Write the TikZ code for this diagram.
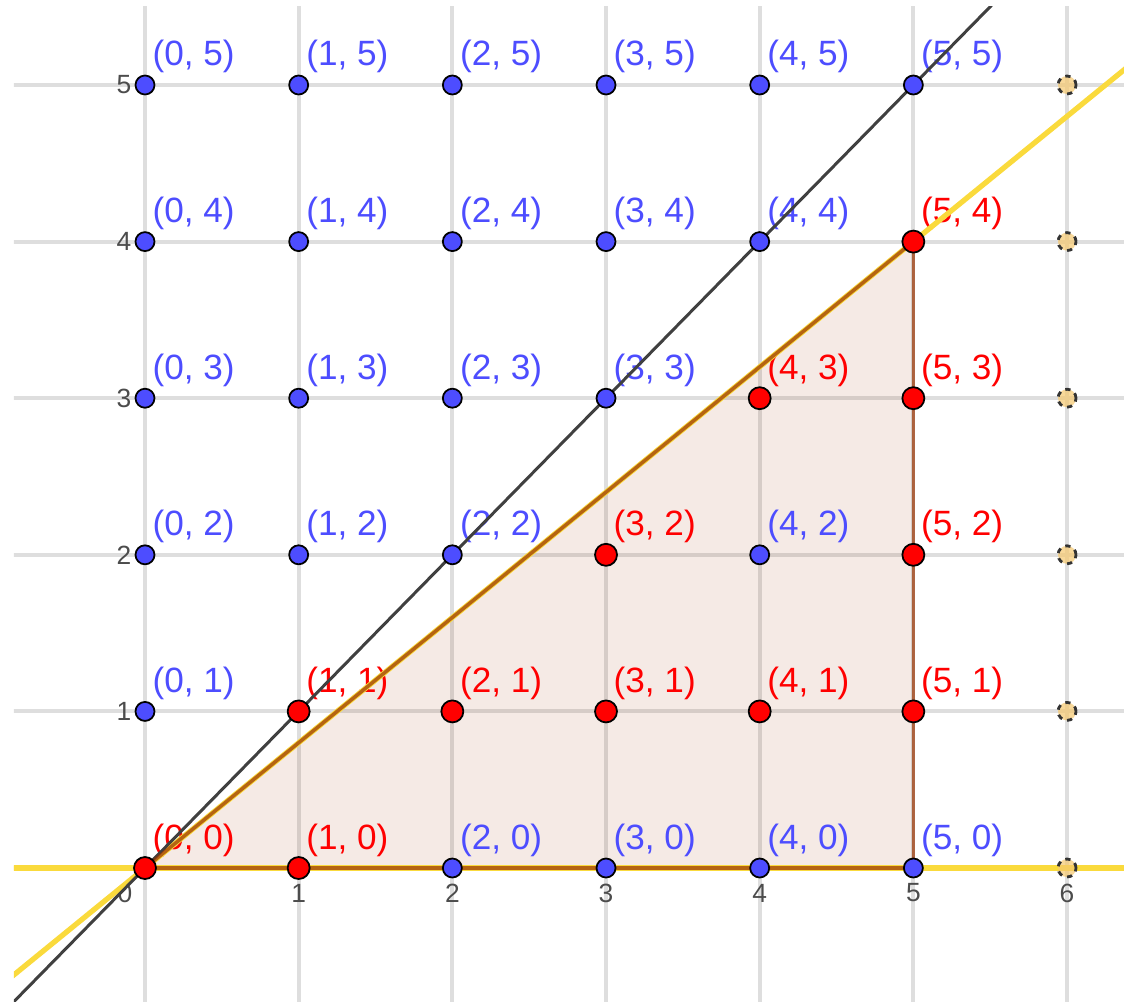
\documentclass[tikz,border=0pt]{standalone}
\usepackage{fontspec}
\setmainfont{Liberation Sans}
\definecolor{ggblue}{RGB}{77,77,255}
\definecolor{ggred}{RGB}{255,0,0}
\definecolor{gridc}{RGB}{222,222,222}
\definecolor{ggyel}{RGB}{250,218,60}
\definecolor{ggbrown}{RGB}{153,51,0}
\definecolor{ggdark}{RGB}{64,64,64}
\definecolor{hollow}{RGB}{245,200,110}
\begin{document}
\begin{tikzpicture}[x={(1.5367cm,0)}, y={(0,1.566cm)},
  gridline/.style={draw=gridc, line width=1.1pt},
  bpt/.style={circle, fill=ggblue, draw=black, line width=0.5pt, minimum size=0.19cm, inner sep=0pt},
  rpt/.style={circle, fill=ggred, draw=black, line width=0.5pt, minimum size=0.22cm, inner sep=0pt},
  hpt/.style={circle, fill=hollow, fill opacity=0.7, draw=black!80, dash pattern=on 1.5pt off 1.5pt, line width=0.8pt, minimum size=0.18cm, inner sep=0pt},
  ptlab/.style={anchor=base west, font=\fontsize{10}{12}\selectfont, inner sep=0pt, xshift=0.07cm, yshift=0.19cm},
  blab/.style={ptlab, text=ggblue},
  rlab/.style={ptlab, text=ggred},
  tick/.style={font=\fontsize{7.5}{8}\selectfont, text=black!70, inner sep=0pt},
  yelline/.style={draw=ggyel, line width=1.5pt},
  blkline/.style={draw=ggdark, line width=0.85pt},
  triedge/.style={draw=ggbrown, draw opacity=0.7, line width=1pt},
  trifill/.style={fill=ggbrown, fill opacity=0.1}
]
\useasboundingbox (-1.45cm,-1.33cm) rectangle (9.79cm,8.68cm);

% named coordinates
\coordinate (A) at (0,0);
\coordinate (B) at (5,0);
\coordinate (C) at (5,4);
\coordinate (bk1) at (-1,-1);
\coordinate (bk2) at (7,7);
\coordinate (yd1) at (-1,-0.8);
\coordinate (yd2) at (7,5.6);
\coordinate (yh1) at (-1,0);
\coordinate (yh2) at (7,0);

\begin{scope}
\clip (-1.31cm,-1.33cm) rectangle (9.79cm,8.61cm);
% grid
\foreach \i in {0,...,6} {
  \coordinate (gv\i a) at (\i,-1);
  \coordinate (gv\i b) at (\i,7);
  \draw[gridline] (gv\i a) -- (gv\i b);
}
\foreach \j in {0,...,5} {
  \coordinate (gh\j a) at (-1,\j);
  \coordinate (gh\j b) at (7,\j);
  \draw[gridline] (gh\j a) -- (gh\j b);
}
% triangle fill
\fill[trifill] (A) -- (B) -- (C) -- cycle;

% tick labels
\node[tick] (t0) at ([xshift=-0.2cm,yshift=-0.25cm]0,0) {0};
\foreach \i in {1,...,6} {
  \node[tick] (tx\i) at ([yshift=-0.25cm]\i,0) {\i};
}
\foreach \j in {1,...,5} {
  \node[tick, anchor=east] (ty\j) at ([xshift=-0.13cm]0,\j) {\j};
}

% point labels
\foreach \a/\b in {0/5,1/5,2/5,3/5,4/5,5/5,0/4,1/4,2/4,3/4,4/4,0/3,1/3,2/3,3/3,0/2,1/2,2/2,4/2,0/1,2/0,3/0,4/0,5/0} {
  \node[blab] (l\a\b) at (\a,\b) {(\a, \b)};
}
\foreach \a/\b in {0/0,1/0,1/1,2/1,3/1,4/1,5/1,3/2,5/2,4/3,5/3,5/4} {
  \node[rlab] (l\a\b) at (\a,\b) {(\a, \b)};
}

% lines
\draw[yelline] (yh1) -- (yh2);
\draw[yelline] (yd1) -- (yd2);
\draw[blkline] (bk1) -- (bk2);
\end{scope}

% triangle edges
\draw[triedge] (A) -- (B);
\draw[triedge] (A) -- (C);
\draw[triedge] (B) -- (C);

% points
\foreach \a/\b in {0/5,1/5,2/5,3/5,4/5,5/5,0/4,1/4,2/4,3/4,4/4,0/3,1/3,2/3,3/3,0/2,1/2,2/2,4/2,0/1,2/0,3/0,4/0,5/0} {
  \node[bpt] (p\a\b) at (\a,\b) {};
}
\foreach \a/\b in {0/0,1/0,1/1,2/1,3/1,4/1,5/1,3/2,5/2,4/3,5/3,5/4} {
  \node[rpt] (p\a\b) at (\a,\b) {};
}
\foreach \b in {0,...,5} {
  \node[hpt] (h\b) at (6,\b) {};
}
\end{tikzpicture}
\end{document}
